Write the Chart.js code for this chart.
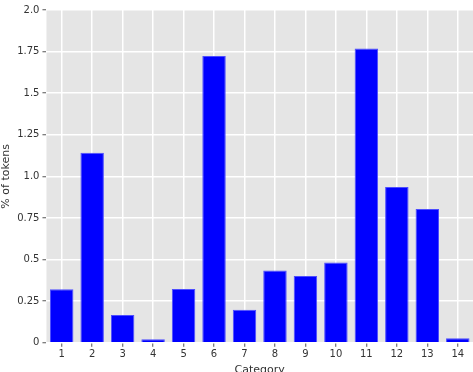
<!DOCTYPE html>
<html>
<head>
<meta charset="utf-8">
<script src="https://cdn.jsdelivr.net/npm/chart.js@4/dist/chart.umd.min.js"></script>
<style>
  html, body { margin: 0; padding: 0; background: #fff; overflow: hidden; }
  #wrap { width: 473px; height: 377px; }
</style>
</head>
<body>
<div id="wrap"><canvas id="grafico" width="473" height="377"></canvas></div>
<script>
// Datos del gráfico
const categorias = ["1", "2", "3", "4", "5", "6", "7", "8", "9", "10", "11", "12", "13", "14"];
const porcentajes = [0.322, 1.142, 0.167, 0.022, 0.324, 1.724, 0.199, 0.435, 0.401, 0.483, 1.769, 0.937, 0.804, 0.028];
const valoresY = [0, 0.25, 0.5, 0.75, 1.0, 1.25, 1.5, 1.75, 2.0];
const etiquetasY = ["0", "0.25", "0.5", "0.75", "1.0", "1.25", "1.5", "1.75", "2.0"];

// Fondo gris del área de trazado (estilo ggplot)
const fondoGris = {
  id: "fondoGris",
  beforeDraw(chart) {
    const { ctx, chartArea } = chart;
    ctx.save();
    ctx.fillStyle = "#e5e5e5";
    ctx.fillRect(chartArea.left, chartArea.top, chartArea.right - chartArea.left, chartArea.bottom - chartArea.top);
    ctx.restore();
  },
};

const ctx = document.getElementById("grafico");

new Chart(ctx, {
  type: "bar",
  data: {
    labels: categorias,
    datasets: [
      {
        data: porcentajes,
        backgroundColor: "#0000ff",
        borderColor: "#4d4dff",
        borderWidth: 1,
        barPercentage: 0.77,
        categoryPercentage: 1.0,
      },
    ],
  },
  options: {
    responsive: false,
    animation: false,
    layout: { padding: { left: 0, right: 0, top: 10, bottom: 0 } },
    plugins: {
      legend: { display: false },
      tooltip: { enabled: false },
    },
    scales: {
      x: {
        offset: true,
        grid: {
          color: "#ffffff",
          lineWidth: 1.5,
          offset: false,
          drawTicks: true,
          tickLength: 4,
          tickColor: "#555555",
          tickWidth: 1,
        },
        border: { display: false },
        ticks: { color: "#333333", font: { family: "DejaVu Sans", size: 10 }, padding: 2, maxRotation: 0 },
        title: {
          display: true,
          text: "Category",
          color: "#333333",
          font: { family: "DejaVu Sans", size: 11 },
          padding: { top: 1, bottom: 0 },
        },
      },
      y: {
        min: 0,
        max: 2.0,
        afterBuildTicks(scale) {
          scale.ticks = valoresY.map((v) => ({ value: v }));
        },
        grid: {
          color: "#ffffff",
          lineWidth: 1.5,
          drawTicks: true,
          tickLength: 4,
          tickColor: "#555555",
          tickWidth: 1,
        },
        border: { display: false },
        ticks: {
          color: "#333333",
          font: { family: "DejaVu Sans", size: 10 },
          padding: 3,
          callback: (value) => {
            const i = valoresY.indexOf(value);
            return i >= 0 ? etiquetasY[i] : "";
          },
        },
        title: {
          display: true,
          text: "% of tokens",
          color: "#333333",
          font: { family: "DejaVu Sans", size: 11 },
          padding: { top: 0, bottom: 1 },
        },
      },
    },
  },
  plugins: [fondoGris],
});
</script>
</body>
</html>
